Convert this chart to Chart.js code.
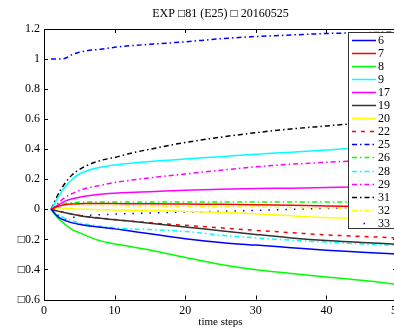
<!DOCTYPE html>
<html>
<head>
<meta charset="utf-8">
<script src="https://cdn.jsdelivr.net/npm/chart.js@4/dist/chart.umd.min.js"></script>
<style>
  html, body { margin: 0; padding: 0; background: #fff; overflow: hidden; }
  #wrap { width: 400px; height: 330px; }
</style>
</head>
<body>
<div id="wrap"><canvas id="c" width="400" height="330"></canvas></div>
<script>
// time steps at which the trajectories are sampled
const steps = [1, 2, 3, 4, 5, 6, 8, 10, 12, 15, 20, 25, 30, 35, 40, 45, 50];

// one trajectory per unit
const s6  = [0, -0.05, -0.075, -0.09, -0.1, -0.108, -0.12, -0.13, -0.143, -0.163, -0.195, -0.22, -0.238, -0.255, -0.272, -0.285, -0.298];
const s7  = [0, 0.02, 0.03, 0.035, 0.037, 0.038, 0.038, 0.038, 0.037, 0.037, 0.035, 0.034, 0.031, 0.027, 0.022, 0.019, 0.017];
const s8  = [0, -0.06, -0.1, -0.135, -0.155, -0.175, -0.21, -0.23, -0.245, -0.27, -0.32, -0.367, -0.402, -0.427, -0.45, -0.472, -0.5];
const s9  = [0, 0.08, 0.15, 0.2, 0.235, 0.255, 0.28, 0.295, 0.305, 0.318, 0.335, 0.35, 0.367, 0.38, 0.395, 0.41, 0.42];
const s17 = [0, 0.03, 0.055, 0.07, 0.08, 0.088, 0.1, 0.107, 0.112, 0.117, 0.127, 0.133, 0.138, 0.141, 0.145, 0.15, 0.155];
const s19 = [0, -0.012, -0.023, -0.033, -0.042, -0.049, -0.06, -0.07, -0.078, -0.092, -0.117, -0.142, -0.167, -0.19, -0.208, -0.22, -0.232];
const s20 = [0, 0.01, 0.008, 0.004, 0.001, 0, -0.003, -0.004, -0.006, -0.008, -0.014, -0.02, -0.03, -0.042, -0.055, -0.06, -0.065];
const s22 = [0, -0.012, -0.022, -0.032, -0.04, -0.047, -0.058, -0.068, -0.077, -0.09, -0.106, -0.123, -0.14, -0.155, -0.17, -0.18, -0.19];
const s25 = [1, 1, 1.005, 1.03, 1.045, 1.055, 1.065, 1.078, 1.088, 1.098, 1.115, 1.135, 1.15, 1.16, 1.17, 1.175, 1.18];
const s26 = [0, 0.025, 0.04, 0.045, 0.047, 0.048, 0.048, 0.048, 0.048, 0.048, 0.048, 0.048, 0.048, 0.048, 0.049, 0.049, 0.05];
const s28 = [0, -0.035, -0.06, -0.078, -0.09, -0.1, -0.113, -0.123, -0.13, -0.135, -0.147, -0.172, -0.19, -0.205, -0.218, -0.23, -0.24];
const s29 = [0, 0.04, 0.08, 0.105, 0.125, 0.14, 0.16, 0.178, 0.192, 0.21, 0.235, 0.26, 0.283, 0.3, 0.313, 0.325, 0.335];
const s31 = [0, 0.1, 0.175, 0.23, 0.265, 0.29, 0.325, 0.345, 0.37, 0.4, 0.445, 0.48, 0.51, 0.535, 0.555, 0.575, 0.59];
const s32 = [0, 0.03, 0.035, 0.033, 0.03, 0.028, 0.026, 0.025, 0.023, 0.022, 0.02, 0.017, 0.015, 0.012, 0.01, 0.008, 0.006];
const s33 = [0, -0.04, -0.065, -0.055, -0.045, -0.04, -0.036, -0.032, -0.028, -0.025, -0.018, -0.013, -0.007, 0, 0.006, 0.01, 0.012];

const seriesNames = ['6', '7', '8', '9', '17', '19', '20', '22', '25', '26', '28', '29', '31', '32', '33'];
const seriesValues = [s6, s7, s8, s9, s17, s19, s20, s22, s25, s26, s28, s29, s31, s32, s33];

// axis ticks
const xTickValues = [0, 10, 20, 30, 40, 50];
const xTickLabels = ['0', '10', '20', '30', '40', '50'];
const yTickValues = [-0.6, -0.4, -0.2, 0, 0.2, 0.4, 0.6, 0.8, 1, 1.2];
const yTickLabels = ['\u25A10.6', '\u25A10.4', '\u25A10.2', '0', '0.2', '0.4', '0.6', '0.8', '1', '1.2'];

const titleText = 'EXP \u25A181 (E25) \u25A1 20160525';
const xTitle = 'time steps';

// line styles: colour + dash pattern
const SOLID = [];
const DASH = [4, 5];
const DASHDOT = [5, 3, 1.5, 3];
const DOT = [1.5, 7];
const styles = [
  ['#0000ff', SOLID], ['#ff0000', SOLID], ['#00ff00', SOLID], ['#00ffff', SOLID],
  ['#ff00ff', SOLID], ['#333333', SOLID], ['#ffff00', SOLID], ['#ff0000', DASH],
  ['#0000ff', DASHDOT], ['#00ff00', DASHDOT], ['#00ffff', DASHDOT], ['#ff00ff', DASHDOT],
  ['#000000', DASHDOT], ['#ffff00', DASHDOT], ['#0000ff', DOT]
];

const serif = "'Liberation Serif', 'DejaVu Serif', serif";

const datasets = seriesNames.map((name, i) => ({
  label: name,
  data: steps.map((x, k) => ({ x: x, y: seriesValues[i][k] })),
  borderColor: styles[i][0],
  borderDash: styles[i][1],
  borderWidth: 1.5,
  pointRadius: 0,
  fill: false,
  cubicInterpolationMode: 'monotone'
}));

// axis box with inward tick marks on all four sides
const frame = {
  id: 'frame',
  afterDatasetsDraw(chart) {
    const { ctx, chartArea: a, scales } = chart;
    ctx.save();
    ctx.strokeStyle = '#000';
    ctx.lineWidth = 1;
    ctx.beginPath();
    ctx.rect(Math.round(a.left) + 0.5, Math.round(a.top) + 0.5,
             Math.round(a.right - a.left), Math.round(a.bottom - a.top));
    ctx.stroke();
    const len = 4;
    ctx.beginPath();
    xTickValues.forEach(v => {
      const px = Math.round(scales.x.getPixelForValue(v)) + 0.5;
      ctx.moveTo(px, a.bottom); ctx.lineTo(px, a.bottom - len);
      ctx.moveTo(px, a.top); ctx.lineTo(px, a.top + len);
    });
    yTickValues.forEach(v => {
      const py = Math.round(scales.y.getPixelForValue(v)) + 0.5;
      ctx.moveTo(a.left, py); ctx.lineTo(a.left + len, py);
      ctx.moveTo(a.right, py); ctx.lineTo(a.right - len, py);
    });
    ctx.stroke();
    ctx.restore();
  }
};

// boxed legend in the upper right corner of the axes
const boxLegend = {
  id: 'boxLegend',
  afterDatasetsDraw(chart) {
    const ctx = chart.ctx;
    const left = 348.5, top = 32.5, right = 402, bottom = 228.5;
    const rowH = 13.1, firstY = 39.5;
    ctx.save();
    ctx.fillStyle = '#fff';
    ctx.fillRect(left, top, right - left, bottom - top);
    ctx.strokeStyle = '#333';
    ctx.lineWidth = 1;
    ctx.strokeRect(left, top, right - left, bottom - top);
    ctx.font = '12px ' + serif;
    ctx.textBaseline = 'middle';
    ctx.textAlign = 'left';
    chart.data.datasets.forEach((ds, i) => {
      const y = Math.round(firstY + i * rowH) + 0.5;
      ctx.strokeStyle = ds.borderColor;
      ctx.lineWidth = 1.5;
      if (ds.borderDash === DOT) {
        ctx.setLineDash([1.5, 40]);
        ctx.lineDashOffset = -11.5;
      } else {
        ctx.setLineDash(ds.borderDash);
        ctx.lineDashOffset = 0;
      }
      ctx.beginPath();
      ctx.moveTo(352, y); ctx.lineTo(376, y);
      ctx.stroke();
      ctx.setLineDash([]);
      ctx.fillStyle = '#000';
      ctx.fillText(ds.label, 378, y + 0.5);
    });
    ctx.restore();
  }
};

new Chart(document.getElementById('c'), {
  type: 'line',
  data: { datasets },
  options: {
    responsive: false,
    animation: false,
    events: [],
    layout: { padding: { left: 0, right: 3, top: 0, bottom: 0 } },
    plugins: {
      legend: { display: false },
      tooltip: { enabled: false },
      title: {
        display: true,
        fullSize: false,
        text: titleText,
        color: '#000',
        font: { family: serif, size: 12, weight: 'normal' },
        padding: { top: 6.5, bottom: 8.1 }
      }
    },
    scales: {
      x: {
        type: 'linear',
        min: 0, max: 50,
        afterBuildTicks: s => { s.ticks = xTickValues.map(v => ({ value: v })); },
        afterFit: s => { s.height = 30.5; s.paddingLeft = 0; s.paddingRight = 0; },
        grid: { display: false, drawTicks: false },
        border: { display: false },
        ticks: {
          color: '#000',
          padding: 4,
          maxRotation: 0,
          font: { family: serif, size: 12 },
          callback: (v, i) => xTickLabels[i]
        },
        title: {
          display: true,
          text: xTitle,
          color: '#000',
          font: { family: serif, size: 11 },
          padding: { top: 0, bottom: 1.6 }
        }
      },
      y: {
        type: 'linear',
        min: -0.6, max: 1.2,
        afterBuildTicks: s => { s.ticks = yTickValues.map(v => ({ value: v })); },
        afterFit: s => { s.width = 44; s.paddingTop = 0; s.paddingBottom = 0; },
        grid: { display: false, drawTicks: false },
        border: { display: false },
        ticks: {
          color: '#000',
          padding: 4,
          font: { family: serif, size: 12 },
          callback: (v, i) => yTickLabels[i]
        }
      }
    }
  },
  plugins: [frame, boxLegend]
});
</script>
</body>
</html>
